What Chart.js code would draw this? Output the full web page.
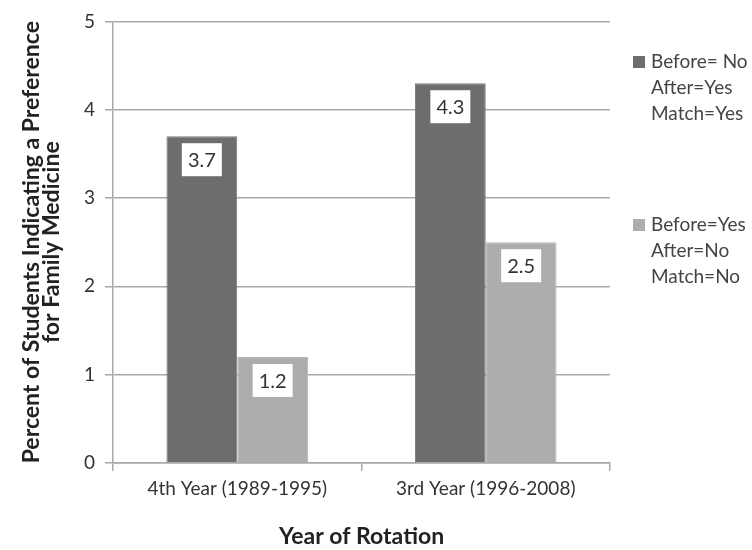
<!DOCTYPE html>
<html>
<head>
<meta charset="utf-8">
<script src="https://cdn.jsdelivr.net/npm/chart.js@4.4.0/dist/chart.umd.min.js"></script>
<style>
  html, body { margin: 0; padding: 0; background: #fff; }
  #wrap { width: 752px; height: 550px; }
</style>
</head>
<body>
<div id="wrap"><canvas id="chart" width="752" height="550"></canvas></div>
<script>
// ==== data ====
const categories = ["4th Year (1989-1995)", "3rd Year (1996-2008)"];
const matchYes = [3.7, 4.3];
const matchNo = [1.2, 2.5];
const legendMatchYes = ["Before= No", "After=Yes", "Match=Yes"];
const legendMatchNo = ["Before=Yes", "After=No", "Match=No"];
const yTicks = [0, 1, 2, 3, 4, 5];

const FONT = "Lato, 'Open Sans', sans-serif";
const gridColor = "#a9a9a9";

// ==== labels in white boxes inside the bars ====
const boxLabels = {
    id: "boxLabels",
    afterDatasetsDraw(chart) {
        const ctx = chart.ctx;
        ctx.save();
        ctx.font = "20px " + FONT;
        ctx.textAlign = "center";
        ctx.textBaseline = "middle";
        chart.data.datasets.forEach((ds, i) => {
            chart.getDatasetMeta(i).data.forEach((bar, j) => {
                const w = 40, h = 33;
                const x = bar.x - w / 2;
                const y = bar.y + 7;
                ctx.fillStyle = "#fff";
                ctx.fillRect(x, y, w, h);
                ctx.fillStyle = "#333";
                ctx.fillText(ds.data[j].toFixed(1), bar.x, y + h / 2 + 1);
            });
        });
        ctx.restore();
    }
};

// ==== legend on the right, multi-line ====
const sideLegend = {
    id: "sideLegend",
    afterDraw(chart) {
        const ctx = chart.ctx;
        ctx.save();
        ctx.font = "19px " + FONT;
        ctx.textBaseline = "middle";
        const tops = [62, 225];
        chart.data.datasets.forEach((ds, i) => {
            const y0 = tops[i];
            ctx.fillStyle = ds.backgroundColor;
            ctx.fillRect(633, y0 - 6, 12, 12);
            ctx.fillStyle = "#444";
            ds.label.forEach((line, k) => {
                ctx.fillText(line, 651, y0 + k * 26);
            });
        });
        ctx.restore();
    }
};

new Chart(document.getElementById("chart"), {
    type: "bar",
    data: {
        labels: categories,
        datasets: [
            {
                label: legendMatchYes,
                data: matchYes,
                backgroundColor: "#6d6d70",
                borderColor: "#7a7a7d",
                borderWidth: 1
            },
            {
                label: legendMatchNo,
                data: matchNo,
                backgroundColor: "#adadb0",
                borderColor: "#b8b8bb",
                borderWidth: 1
            }
        ]
    },
    options: {
        responsive: false,
        animation: false,
        layout: { padding: { top: 12, right: 142, left: 21, bottom: 0 } },
        categoryPercentage: 0.57,
        barPercentage: 1.0,
        plugins: {
            legend: { display: false },
            tooltip: { enabled: false }
        },
        scales: {
            x: {
                offset: true,
                grid: {
                    offset: true,
                    drawOnChartArea: false,
                    drawTicks: true,
                    tickLength: 8,
                    color: gridColor,
                    lineWidth: 1.5
                },
                border: { display: true, color: gridColor, width: 1.5 },
                ticks: { color: "#333", font: { family: FONT, size: 19 }, padding: 6 },
                title: {
                    display: true,
                    text: "Year of Rotation",
                    color: "#222",
                    font: { family: FONT, size: 23, weight: "bold" },
                    padding: { top: 16, bottom: 0 }
                },
                afterFit(axis) { axis.height = 87; }
            },
            y: {
                min: 0,
                max: 5,
                afterBuildTicks(axis) { axis.ticks = yTicks.map(v => ({ value: v })); },
                grid: {
                    color: gridColor,
                    lineWidth: 1.5,
                    tickLength: 8
                },
                border: { display: true, color: gridColor, width: 1.5 },
                ticks: { color: "#333", font: { family: FONT, size: 19 }, padding: 10 },
                title: {
                    display: true,
                    text: ["Percent of Students Indicating a Preference", "for Family Medicine"],
                    color: "#222",
                    font: { family: FONT, size: 23, weight: "bold", lineHeight: 0.88 },
                    padding: { top: 0, bottom: 10 }
                },
                afterFit(axis) { axis.width = 92; }
            }
        }
    },
    plugins: [boxLabels, sideLegend]
});
</script>
</body>
</html>
